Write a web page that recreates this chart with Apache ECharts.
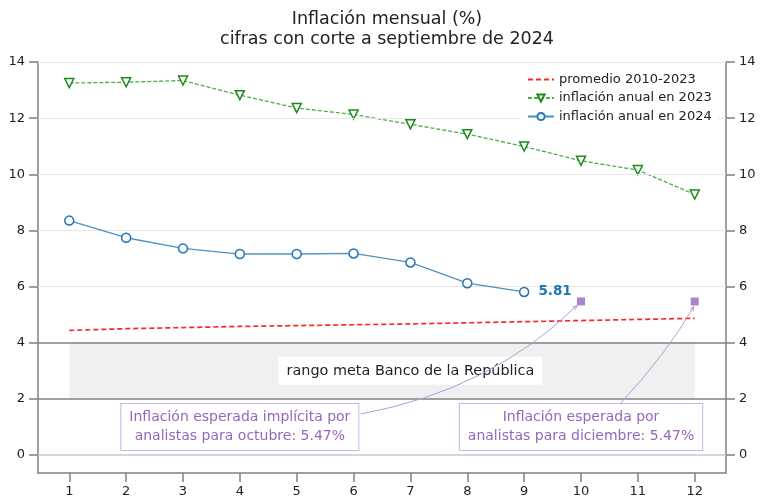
<!DOCTYPE html>
<html>
<head>
<meta charset="utf-8">
<script src="https://cdn.jsdelivr.net/npm/echarts@6/dist/echarts.min.js"></script>
<style>
  html, body { margin: 0; padding: 0; background: #fff; }
  #chart { width: 769px; height: 501px; }
</style>
</head>
<body>
<div id="chart"></div>
<script>
// datos
var meses = [1, 2, 3, 4, 5, 6, 7, 8, 9, 10, 11, 12];
var promedio = [4.44, 4.50, 4.54, 4.58, 4.61, 4.64, 4.67, 4.71, 4.75, 4.79, 4.83, 4.87];
var infl2023 = [13.25, 13.28, 13.34, 12.82, 12.36, 12.13, 11.78, 11.43, 10.99, 10.48, 10.15, 9.28];
var infl2024 = [8.35, 7.74, 7.36, 7.16, 7.16, 7.18, 6.86, 6.12, 5.81];
var esperadaMes = [10, 12];
var esperadaValor = [5.47, 5.47];
var yTicks = [0, 2, 4, 6, 8, 10, 12, 14];

var font = 'DejaVu Sans';
var pares = function (xs, ys) {
  return ys.map(function (v, i) { return [xs[i], v]; });
};

var datos2024 = pares(meses, infl2024);
var ultimo = datos2024.length - 1;
datos2024[ultimo] = {
  value: datos2024[ultimo],
  label: {
    show: true, position: 'right', distance: 9,
    formatter: infl2024[ultimo].toFixed(2),
    color: '#1f77b4', fontWeight: 'bold', fontSize: 13.5, fontFamily: font
  }
};

var chartDom = document.getElementById('chart');
var myChart = echarts.init(chartDom);

var ejeGris = { color: '#808080', width: 1.5 };

var option = {
  animation: false,
  backgroundColor: '#fff',
  title: [
    { text: 'Inflación mensual (%)', left: 382, top: 5, textAlign: 'center',
      textStyle: { fontFamily: font, fontSize: 17.5, fontWeight: 'normal', color: '#222' } },
    { text: 'cifras con corte a septiembre de 2024', left: 382, top: 25, textAlign: 'center',
      textStyle: { fontFamily: font, fontSize: 17.5, fontWeight: 'normal', color: '#222' } }
  ],
  legend: {
    orient: 'vertical',
    left: 521, top: 67,
    z: 20,
    padding: [5, 6],
    backgroundColor: '#fff',
    itemWidth: 26, itemHeight: 9, itemGap: 3.5,
    itemTextGap: 12,
    data: [
      { name: 'promedio 2010-2023', itemStyle: { opacity: 0 } },
      'inflación anual en 2023',
      'inflación anual en 2024'
    ],
    textStyle: { fontFamily: font, fontSize: 13, color: '#222', lineHeight: 15 }
  },
  grid: { left: 38, right: 43, top: 62, bottom: 28, containLabel: false },
  xAxis: {
    type: 'value', min: 0.45, max: 12.55,
    axisLine: { show: true, onZero: false, lineStyle: ejeGris },
    axisTick: { show: true, customValues: meses, length: 9, lineStyle: ejeGris },
    axisLabel: { customValues: meses, margin: 12, fontFamily: font, fontSize: 13, color: '#222' },
    splitLine: { show: false }
  },
  yAxis: [
    {
      type: 'value', min: -0.64, max: 14, position: 'left',
      axisLine: { show: true, onZero: false, lineStyle: ejeGris },
      axisTick: { show: true, customValues: yTicks, length: 9, lineStyle: ejeGris },
      axisLabel: { customValues: yTicks, margin: 13, fontFamily: font, fontSize: 13, color: '#222' },
      splitLine: { show: false }
    },
    {
      type: 'value', min: -0.64, max: 14, position: 'right',
      axisLine: { show: true, onZero: false, lineStyle: ejeGris },
      axisTick: { show: true, customValues: yTicks, length: 9, lineStyle: ejeGris },
      axisLabel: { customValues: yTicks, margin: 13, fontFamily: font, fontSize: 13, color: '#222' },
      splitLine: { show: false }
    }
  ],
  series: [
    {
      name: 'promedio 2010-2023',
      type: 'line',
      data: pares(meses, promedio),
      symbol: 'none',
      lineStyle: { color: 'rgba(255,0,0,0.85)', width: 1.7, type: [5, 3] },
      itemStyle: { color: 'rgba(255,0,0,0.85)' },
      z: 3,
      markArea: {
        silent: true,
        itemStyle: { color: '#f0f0f0' },
        data: [[{ coord: [1, 2] }, { coord: [12, 4] }]]
      },
      markLine: {
        silent: true,
        symbol: 'none',
        label: { show: false },
        data: [
          { yAxis: 6, lineStyle: { color: '#e6e6e6', width: 1, type: 'solid' } },
          { yAxis: 8, lineStyle: { color: '#e6e6e6', width: 1, type: 'solid' } },
          { yAxis: 10, lineStyle: { color: '#e6e6e6', width: 1, type: 'solid' } },
          { yAxis: 12, lineStyle: { color: '#e6e6e6', width: 1, type: 'solid' } },
          { yAxis: 14, lineStyle: { color: '#e6e6e6', width: 1, type: 'solid' } },
          { yAxis: 0, lineStyle: { color: '#c8c8c8', width: 1.5, type: 'solid' } },
          { yAxis: 2, lineStyle: { color: '#808080', width: 1.5, type: 'solid' } },
          { yAxis: 4, lineStyle: { color: '#808080', width: 1.5, type: 'solid' } }
        ]
      },
      markPoint: {
        silent: true,
        symbol: 'rect', symbolSize: 0,
        data: [{
          coord: [7, 3],
          label: {
            show: true, position: 'inside',
            formatter: 'rango meta Banco de la República',
            backgroundColor: '#fff', padding: [7, 8],
            fontFamily: font, fontSize: 14.4, color: '#222'
          }
        }]
      }
    },
    {
      name: 'inflación anual en 2023',
      type: 'line',
      data: pares(meses, infl2023),
      symbol: 'triangle', symbolRotate: 180, symbolSize: 9,
      lineStyle: { color: 'rgba(44,160,44,0.85)', width: 1.3, type: [4, 2] },
      itemStyle: { color: '#fff', borderColor: '#1a8a1a', borderWidth: 1.5 },
      z: 4
    },
    {
      name: 'inflación anual en 2024',
      type: 'line',
      data: datos2024,
      symbol: 'circle', symbolSize: 9,
      lineStyle: { color: 'rgba(31,119,180,0.8)', width: 1.3 },
      itemStyle: { color: '#fff', borderColor: '#1f77b4', borderWidth: 1.5 },
      z: 5
    },
    {
      name: 'esperada',
      type: 'scatter',
      data: pares(esperadaMes, esperadaValor),
      symbol: 'rect', symbolSize: 8,
      itemStyle: { color: '#9467bd' },
      z: 6,
      markPoint: {
        silent: true,
        symbol: 'rect', symbolSize: 0,
        label: {
          show: true, position: 'inside',
          backgroundColor: '#fff', borderColor: '#c9b3e3', borderWidth: 1,
          padding: [4, 8], lineHeight: 19, align: 'center',
          fontFamily: font, fontSize: 14, color: '#9467bd'
        },
        data: [
          { coord: [4, 1], label: { formatter: 'Inflación esperada implícita por\nanalistas para octubre: 5.47%' } },
          { coord: [10, 1], label: { formatter: 'Inflación esperada por\nanalistas para diciembre: 5.47%' } }
        ]
      }
    }
  ]
};

myChart.setOption(option);

// flechas curvas de las anotaciones
function px(p) {
  return myChart.convertToPixel({ xAxisIndex: 0, yAxisIndex: 0 }, p);
}
function flecha(inicio, fin, control) {
  var ang = Math.atan2(fin[1] - control[1], fin[0] - control[0]);
  var L = 5;
  return [
    {
      type: 'bezierCurve', silent: true, z: 100,
      shape: { x1: inicio[0], y1: inicio[1], x2: fin[0], y2: fin[1], cpx1: control[0], cpy1: control[1] },
      style: { stroke: '#b79bd8', lineWidth: 1, fill: null }
    },
    {
      type: 'polyline', silent: true, z: 100,
      shape: { points: [
        [fin[0] - L * Math.cos(ang - 0.4), fin[1] - L * Math.sin(ang - 0.4)],
        [fin[0], fin[1]],
        [fin[0] - L * Math.cos(ang + 0.4), fin[1] - L * Math.sin(ang + 0.4)]
      ] },
      style: { stroke: '#b79bd8', lineWidth: 1, fill: null }
    }
  ];
}

var caja1 = px([4, 1]);
var caja2 = px([10, 1]);
var punto1 = px([esperadaMes[0], esperadaValor[0]]);
var punto2 = px([esperadaMes[1], esperadaValor[1]]);

var ini1 = [caja1[0] + 121, caja1[1] - 13];
var fin1 = [punto1[0] - 4, punto1[1] + 4];
var ini2 = [caja2[0] + 39, caja2[1] - 23];
var fin2 = [punto2[0] - 1, punto2[1] + 5];

myChart.setOption({
  graphic: flecha(ini1, fin1, [ini1[0] + 130, ini1[1] - 24])
    .concat(flecha(ini2, fin2, [ini2[0] + 48, ini2[1] - 52]))
});
</script>
</body>
</html>
